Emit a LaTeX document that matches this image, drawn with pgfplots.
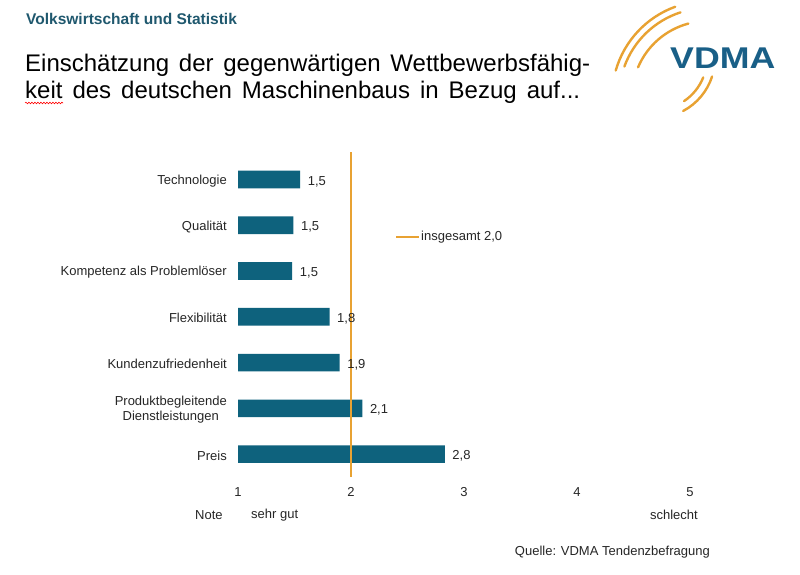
\documentclass[border=0pt]{standalone}
\usepackage{pgfplots}
\pgfplotsset{compat=1.18}
\usepackage{pgfplotstable}
\usepackage{fontspec}
\setmainfont{Liberation Sans}
\usetikzlibrary{decorations.pathmorphing}
\definecolor{barblue}{RGB}{14,98,125}
\definecolor{vdmaorange}{RGB}{232,162,50}
\definecolor{headteal}{RGB}{31,88,110}
\definecolor{logoblue}{RGB}{25,95,135}

\pgfplotstableread{
y val label
6 1.55 1,5
5 1.49 1,5
4 1.48 1,5
3 1.81 1,8
2 1.90 1,9
1 2.10 2,1
0 2.83 2,8
}\bewertung

\newcommand\fs[1]{\fontsize{#1}{#1}\selectfont}

\begin{document}
\begin{tikzpicture}[x=1pt,y=1pt]
\path[use as bounding box, fill=white] (0,0) rectangle (800,575);

% header and title
\node[anchor=base west, inner sep=0pt, text=headteal, font=\bfseries\fs{15.5}] at (26,550) {Volkswirtschaft und Statistik};
\node[anchor=base west, inner sep=0pt, font=\fs{24}] at (25,503) {\makebox[565pt][s]{Einschätzung der gegenwärtigen Wettbewerbsfähig-}};
\node[anchor=base west, inner sep=0pt, font=\fs{24}] at (25,476) {\makebox[555pt][s]{keit des deutschen Maschinenbaus in Bezug auf...}};
\draw[red, line width=0.6pt, decorate, decoration={snake, amplitude=0.8pt, segment length=3pt}] (25,472) -- (63,472);

% logo
\begin{scope}[vdmaorange, line width=2.4pt, line cap=round]
\draw ([shift={(110:96)}]708,478) arc[start angle=110, end angle=164, radius=96];
\draw ([shift={(108:89)}]708,478) arc[start angle=108, end angle=160, radius=89];
\draw ([shift={(105:76)}]708,478) arc[start angle=105, end angle=157, radius=76];
\draw ([shift={(-18:60)}]655,517) arc[start angle=-18, end angle=-62, radius=60];
\draw ([shift={(-22:52)}]655,517) arc[start angle=-22, end angle=-56, radius=52];
\end{scope}
\node[anchor=base west, inner sep=0pt, text=logoblue, font=\bfseries\fs{30}] at (670,506.7) {\scalebox{1.19}[1]{VDMA}};

\begin{axis}[
  at={(238pt,98pt)}, anchor=south west,
  width=452pt, height=325pt, scale only axis,
  xmin=1, xmax=5, ymin=-0.5, ymax=6.6,
  xtick={1,2,3,4,5},
  ytick={0,1,2,3,4,5,6},
  yticklabels={Preis, {Produktbegleitende\\Dienstleistungen}, Kundenzufriedenheit, Flexibilität, {Kompetenz als Problemlöser}, Qualität, Technologie},
  axis line style={draw=none},
  major tick length=0pt, tick style={draw=none},
  /pgf/number format/assume math mode=true,
  xticklabel style={font=\fs{13}, inner sep=0pt, yshift=-10pt, text=black!85},
  yticklabel style={font=\fontsize{13}{15.5}\selectfont, align=center, inner sep=0pt, xshift=-11pt, yshift=-1.5pt, text=black!85},
  legend style={at={(0.347,0.7385)}, anchor=west, draw=none, fill=none, font=\fs{13}, inner sep=0pt,
    nodes={inner sep=1pt, text=black!85}},
  legend image code/.code={\draw[#1] (0pt,0pt) -- (23pt,0pt);},
]
\addplot[xbar, bar width=17.6pt, fill=barblue, draw=none, forget plot,
  nodes near coords, point meta=explicit symbolic,
  every node near coord/.append style={font=\fs{13}, anchor=base west, inner sep=0pt, xshift=7.5pt, yshift=-5.6pt, text=black!85}]
  table[x=val, y=y, meta=label] {\bewertung};
\addplot[vdmaorange, line width=2.2pt] coordinates {(2,-0.5) (2,6.6)};
\addlegendentry{insgesamt 2{,}0}
\end{axis}

\node[anchor=west, inner sep=0pt, font=\fs{13}, text=black!85] at (195,60) {Note};
\node[anchor=west, inner sep=0pt, font=\fs{13}, text=black!85] at (251,60) {sehr gut};
\node[anchor=east, inner sep=0pt, font=\fs{13}, text=black!85] at (698,60) {schlecht};
\node[anchor=east, inner sep=0pt, font=\fs{13}, text=black!85] at (710,23) {Quelle: VDMA Tendenzbefragung};
\end{tikzpicture}
\end{document}
